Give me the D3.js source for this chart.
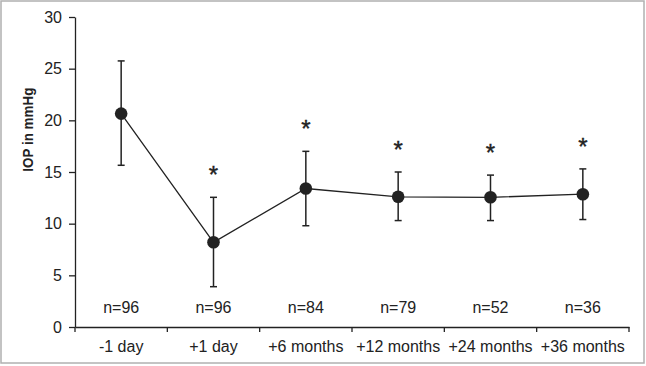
<!DOCTYPE html>
<html><head><meta charset="utf-8">
<script src="https://cdn.jsdelivr.net/npm/d3@7"></script>
<style>
html,body{margin:0;padding:0;background:#fff;}
svg{display:block;font-family:"Liberation Sans",Arial,sans-serif;}
</style></head>
<body>
<svg id="chart" width="646" height="366"></svg>
<script>
const categories = ["-1 day","+1 day","+6 months","+12 months","+24 months","+36 months"];
const means = [20.65, 8.2, 13.4, 12.6, 12.55, 12.85];
const upper = [25.75, 12.55, 17.0, 15.0, 14.7, 15.3];
const lower = [15.65, 3.9, 9.8, 10.3, 10.3, 10.4];
const nLabels = ["n=96","n=96","n=84","n=79","n=52","n=36"];
const significant = [false, true, true, true, true, true];
const yTicks = [0,5,10,15,20,25,30];

const ink = "#222";
const svg = d3.select("#chart");

// frame
svg.append("rect").attr("x",1).attr("y",1).attr("width",643).attr("height",362)
  .attr("fill","#fff").attr("stroke","#b0b0b0").attr("stroke-width",1.5);

const x = d3.scaleBand().domain(categories).range([75,629]).paddingInner(0).paddingOuter(0);
const y = d3.scaleLinear().domain([0,30]).range([327,17]);
const cx = d => x(d) + x.bandwidth()/2;

// Y axis
const gy = svg.append("g").attr("transform","translate(75,0)")
  .call(d3.axisLeft(y).tickValues(yTicks).tickSize(6).tickSizeOuter(0).tickPadding(7));
gy.select(".domain").attr("stroke",ink).attr("stroke-width",1.3);
gy.selectAll(".tick line").attr("stroke",ink).attr("stroke-width",1.3);
gy.selectAll(".tick text").attr("fill",ink).attr("font-size",16).attr("font-family","Liberation Sans, Arial, sans-serif");

// X axis
const gx = svg.append("g").attr("transform",`translate(0,${y(0)})`)
  .call(d3.axisBottom(x).tickSize(0).tickSizeOuter(0).tickPadding(14));
gx.select(".domain").attr("stroke",ink).attr("stroke-width",1.3);
gx.selectAll(".tick text").attr("fill",ink).attr("font-size",16).attr("font-family","Liberation Sans, Arial, sans-serif");
const bounds = categories.map(c => x(c)).concat([x.range()[1]]);
gx.selectAll(".bound").data(bounds).enter().append("line")
  .attr("x1",d=>d).attr("x2",d=>d).attr("y1",0).attr("y2",5)
  .attr("stroke",ink).attr("stroke-width",1.3);

// Y title
svg.append("text").attr("transform",`translate(32.5,${y(19.1)}) rotate(-90)`)
  .attr("text-anchor","middle").attr("font-weight","bold").attr("font-size",15)
  .attr("font-family","Liberation Sans, Arial, sans-serif")
  .attr("textLength",84).attr("lengthAdjust","spacingAndGlyphs")
  .attr("fill",ink).text("IOP in mmHg");

// n labels
svg.selectAll(".nlab").data(categories).enter().append("text")
  .attr("x",d=>cx(d)).attr("y",y(0)-14.3).attr("text-anchor","middle")
  .attr("font-size",16).attr("fill",ink).text((d,i)=>nLabels[i]);

// error bars
const eb = svg.append("g");
categories.forEach((c,i)=>{
  eb.append("line").attr("x1",cx(c)).attr("x2",cx(c)).attr("y1",y(upper[i])).attr("y2",y(lower[i]))
    .attr("stroke",ink).attr("stroke-width",1.5);
  [upper[i],lower[i]].forEach(v=>{
    eb.append("line").attr("x1",cx(c)-3.5).attr("x2",cx(c)+3.5).attr("y1",y(v)).attr("y2",y(v))
      .attr("stroke",ink).attr("stroke-width",1.5);
  });
});

// line
const line = d3.line().x((d,i)=>cx(categories[i])).y(d=>y(d));
svg.append("path").datum(means).attr("d",line).attr("fill","none")
  .attr("stroke",ink).attr("stroke-width",1.3);

// points
svg.selectAll(".pt").data(means).enter().append("circle")
  .attr("cx",(d,i)=>cx(categories[i])).attr("cy",d=>y(d)).attr("r",6.3).attr("fill",ink);

// asterisks
svg.selectAll(".star").data(categories.filter((c,i)=>significant[i])).enter().append("text")
  .attr("x",d=>cx(d)).attr("y",d=>y(upper[categories.indexOf(d)])-14)
  .attr("text-anchor","middle").attr("font-size",24).attr("fill",ink)
  .attr("stroke",ink).attr("stroke-width",0.4).text("*");
</script>
</body></html>
